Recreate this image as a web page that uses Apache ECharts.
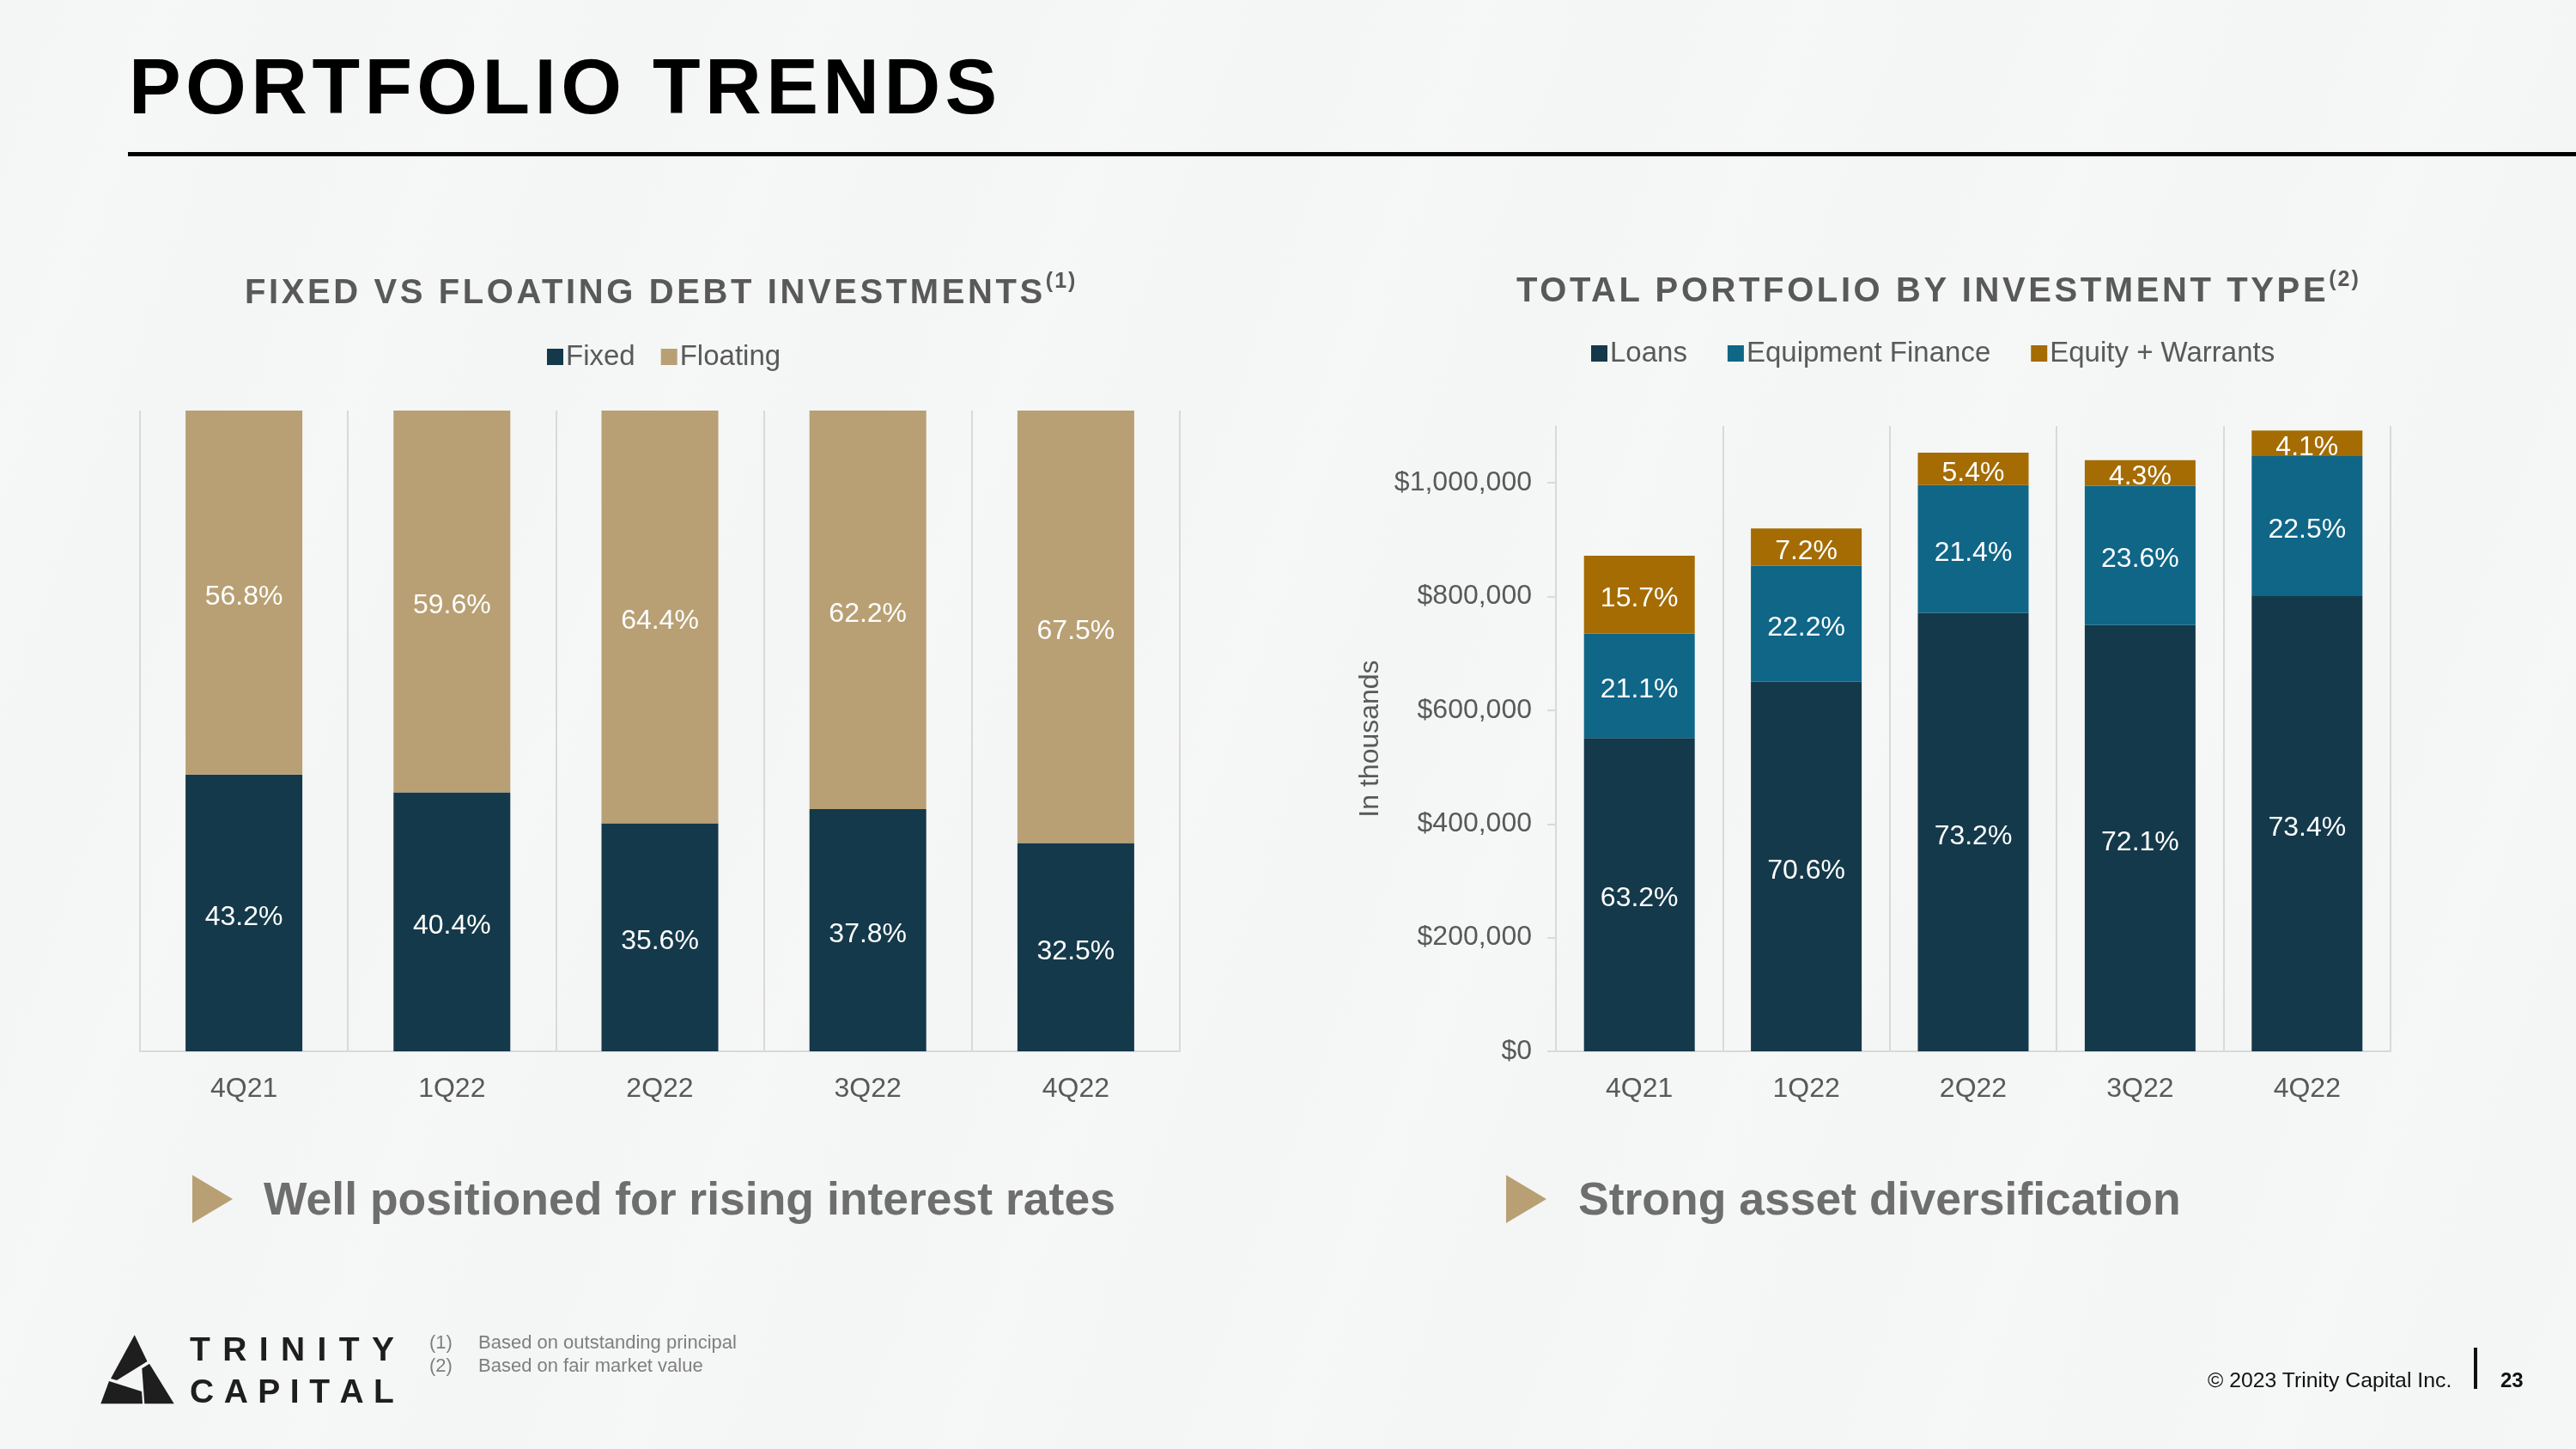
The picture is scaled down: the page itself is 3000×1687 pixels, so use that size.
<!DOCTYPE html>
<html>
<head>
<meta charset="utf-8">
<title>Portfolio Trends</title>
<script src="https://cdn.jsdelivr.net/npm/echarts@6/dist/echarts.min.js"></script>
<style>
  html, body { margin: 0; padding: 0; }
  body {
    width: 3000px; height: 1687px; position: relative; overflow: hidden;
    background-color: #F4F5F5;
    background-image: repeating-linear-gradient(110deg, rgba(255,255,255,0) 0px, rgba(255,255,255,0.18) 180px, rgba(255,255,255,0) 360px);
    font-family: "Liberation Sans", Arial, sans-serif;
  }
  #draw_area { position: absolute; left: 0; top: 0; width: 3000px; height: 1687px; }
  .txt { position: absolute; line-height: 1; white-space: nowrap; }
  .page-title { left: 150px; top: 55px; font-size: 91px; font-weight: bold; color: #000; letter-spacing: 5.4px; }
  .rule { position: absolute; left: 149px; top: 177px; width: 2851px; height: 5px; background: #000; }
  .chart-title { font-size: 40px; font-weight: bold; color: #595959; letter-spacing: 3.6px; }
  .chart-title sup { font-size: 25px; vertical-align: 0; position: relative; top: -18px; letter-spacing: 2px; }
  .bullet { font-size: 53.5px; font-weight: bold; color: #6E6E6E; }
  .tri { position: absolute; width: 0; height: 0; border-top: 28px solid transparent; border-bottom: 28px solid transparent; border-left: 47px solid #B8A074; }
  .note { font-size: 22px; color: #7F7F7F; }
  .logo-line { position: absolute; left: 221px; width: 238px; display: flex; justify-content: space-between;
    font-size: 39px; font-weight: bold; color: #1E1E1E; line-height: 1; font-family: "Liberation Sans Narrow", "Liberation Sans", Arial, sans-serif; }
</style>
</head>
<body>
<div id="draw_area"></div>

<div class="txt page-title">PORTFOLIO TRENDS</div>
<div class="rule"></div>

<div class="txt chart-title" style="left:285px; top:319px;">FIXED VS FLOATING DEBT INVESTMENTS<sup>(1)</sup></div>
<div class="txt chart-title" style="left:1766px; top:317px;">TOTAL PORTFOLIO BY INVESTMENT TYPE<sup>(2)</sup></div>

<div class="tri" style="left:224px; top:1368px;"></div>
<div class="txt bullet" style="left:307px; top:1369px;">Well positioned for rising interest rates</div>
<div class="tri" style="left:1754px; top:1368px;"></div>
<div class="txt bullet" style="left:1838px; top:1369px;">Strong asset diversification</div>

<!-- logo -->
<svg style="position:absolute; left:100px; top:1545px;" width="120" height="100">
  <polygon points="56.7,9.3 71.5,40 36,62 29,60" fill="#1E1E1E"/>
  <polygon points="74,42.7 102.7,89.3 68.3,89.3 65.3,48.3" fill="#1E1E1E"/>
  <polygon points="27,63 17.3,89.3 66,89.3 65,75" fill="#1E1E1E"/>
</svg>
<div class="logo-line" style="top:1551px;"><span>T</span><span>R</span><span>I</span><span>N</span><span>I</span><span>T</span><span>Y</span></div>
<div class="logo-line" style="top:1600px;"><span>C</span><span>A</span><span>P</span><span>I</span><span>T</span><span>A</span><span>L</span></div>

<div class="txt note" style="left:500px; top:1552px;">(1)</div>
<div class="txt note" style="left:557px; top:1552px;">Based on outstanding principal</div>
<div class="txt note" style="left:500px; top:1579px;">(2)</div>
<div class="txt note" style="left:557px; top:1579px;">Based on fair market value</div>

<div class="txt" style="left:2571px; top:1595px; font-size:24.8px; color:#111;">© 2023 Trinity Capital Inc.</div>
<div style="position:absolute; left:2881px; top:1569px; width:4px; height:48px; background:#111;"></div>
<div class="txt" style="left:2912px; top:1595px; font-size:24px; font-weight:bold; color:#111;">23</div>

<script>
"use strict";

//季度
var quarters = ['4Q21', '1Q22', '2Q22', '3Q22', '4Q22'];

//左图：固定 / 浮动 (百分比)
var fixed_pct = [43.2, 40.4, 35.6, 37.8, 32.5];
var floating_pct = [56.8, 59.6, 64.4, 62.2, 67.5];

//右图：按投资类型 (千美元)
var loans = [551000, 650000, 771000, 750000, 801000];
var equipment = [184000, 204000, 225000, 245000, 246000];
var equity = [137000, 66000, 57000, 45000, 45000];

//右图标签上的百分比
var loans_pct = ['63.2%', '70.6%', '73.2%', '72.1%', '73.4%'];
var equipment_pct = ['21.1%', '22.2%', '21.4%', '23.6%', '22.5%'];
var equity_pct = ['15.7%', '7.2%', '5.4%', '4.3%', '4.1%'];

var font = '"Liberation Sans", Arial, sans-serif';
var gray = '#595959';
var line_color = '#D9D9D9';

function bar_label(labels) {
    return {
        show: true,
        position: 'inside',
        offset: [0, 5],
        color: '#fff',
        fontSize: 32,
        fontFamily: font,
        formatter: labels ? function (p) { return labels[p.dataIndex]; } : function (p) { return p.value + '%'; }
    };
}

function cat_axis(idx) {
    return {
        type: 'category',
        gridIndex: idx,
        data: quarters,
        axisLine: { show: true, lineStyle: { color: line_color, width: 2 } },
        axisTick: { show: false },
        splitLine: { show: true, lineStyle: { color: line_color, width: 2 } },
        axisLabel: { fontSize: 32, color: gray, fontFamily: font, margin: 28 }
    };
}

const option = {
    animation: false,
    textStyle: { fontFamily: font },
    grid: [
        { left: 163, top: 478, width: 1211, height: 746 },
        { left: 1812, top: 496, width: 972, height: 728 }
    ],
    legend: [
        {
            data: ['Fixed', 'Floating'],
            left: 632, top: 394,
            icon: 'rect', itemWidth: 19, itemHeight: 19, itemGap: 30,
            textStyle: { fontSize: 33, color: gray, fontFamily: font, padding: [0, 0, 0, -2] }
        },
        {
            data: ['Loans', 'Equipment Finance', 'Equity + Warrants'],
            left: 1848, top: 390,
            icon: 'rect', itemWidth: 19, itemHeight: 19, itemGap: 47,
            textStyle: { fontSize: 33, color: gray, fontFamily: font, padding: [0, 0, 0, -2] }
        }
    ],
    xAxis: [cat_axis(0), cat_axis(1)],
    yAxis: [
        { type: 'value', gridIndex: 0, min: 0, max: 100, show: false },
        {
            type: 'value', gridIndex: 1, min: 0, max: 1100000, interval: 200000,
            axisLine: { show: true, lineStyle: { color: line_color, width: 2 } },
            axisTick: { show: true, length: 10, lineStyle: { color: line_color, width: 2 } },
            splitLine: { show: false },
            axisLabel: {
                fontSize: 32, color: gray, fontFamily: font, margin: 28, showMaxLabel: false,
                formatter: function (v) { return '$' + v.toLocaleString('en-US'); }
            },
            name: 'In thousands',
            nameLocation: 'middle',
            nameGap: 200,
            nameTextStyle: { fontSize: 32, color: gray, fontFamily: font }
        }
    ],
    series: [
        { name: 'Fixed', type: 'bar', stack: 'left', xAxisIndex: 0, yAxisIndex: 0, barWidth: 136,
          itemStyle: { color: '#14394A' }, label: bar_label(null), data: fixed_pct },
        { name: 'Floating', type: 'bar', stack: 'left', xAxisIndex: 0, yAxisIndex: 0, barWidth: 136,
          itemStyle: { color: '#B8A074' }, label: bar_label(null), data: floating_pct },
        { name: 'Loans', type: 'bar', stack: 'right', xAxisIndex: 1, yAxisIndex: 1, barWidth: 129,
          itemStyle: { color: '#14394A' }, label: bar_label(loans_pct), data: loans },
        { name: 'Equipment Finance', type: 'bar', stack: 'right', xAxisIndex: 1, yAxisIndex: 1, barWidth: 129,
          itemStyle: { color: '#0F6687' }, label: bar_label(equipment_pct), data: equipment },
        { name: 'Equity + Warrants', type: 'bar', stack: 'right', xAxisIndex: 1, yAxisIndex: 1, barWidth: 129,
          itemStyle: { color: '#A46C02' }, label: bar_label(equity_pct), data: equity }
    ]
};

var chart_object = echarts.init(document.getElementById('draw_area'));
chart_object.setOption(option);
</script>
</body>
</html>
